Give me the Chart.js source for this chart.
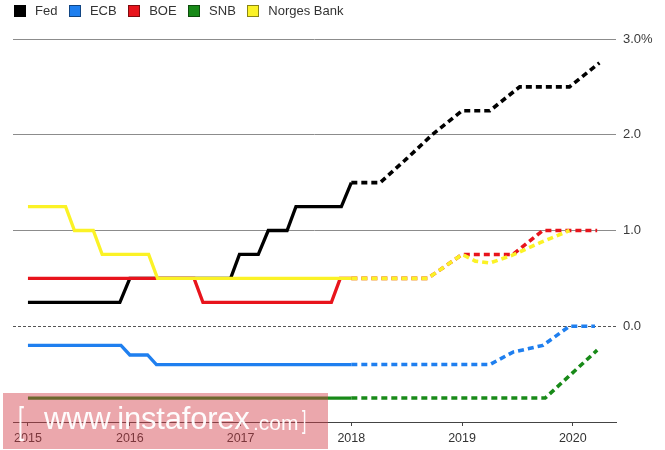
<!DOCTYPE html>
<html>
<head>
<meta charset="utf-8">
<script src="https://cdn.jsdelivr.net/npm/chart.js@4.4.1/dist/chart.umd.min.js"></script>
<style>
  html,body{margin:0;padding:0;background:#fff;}
  #wrap{position:relative;width:665px;height:450px;overflow:hidden;font-family:"Liberation Sans",Arial,Helvetica,sans-serif;}
  #chart{position:absolute;left:0;top:0;}
  #legend{position:absolute;left:14px;top:3px;display:flex;align-items:center;font-size:13px;color:#333;}
  #legend .item{display:flex;align-items:center;margin-right:11.5px;}
  #legend .box{width:12px;height:12px;border:1px solid rgba(0,0,0,.45);margin-right:9px;box-sizing:border-box;}
  #stamp{position:absolute;left:3px;top:393px;width:325px;height:56px;background:rgba(210,60,72,.45);
         color:rgba(255,255,255,.97);white-space:nowrap;}
  #stamp span{position:absolute;}
</style>
</head>
<body>
<div id="wrap">
  <canvas id="chart" width="665" height="450"></canvas>
  <div id="legend"></div>
  <div id="stamp">
    <span style="left:15px;top:7px;font-size:36px;transform:scaleX(.6);transform-origin:left;">[</span>
    <span style="left:41px;top:8px;font-size:31px;letter-spacing:-.2px;">www.instaforex</span>
    <span style="left:250px;top:18px;font-size:21px;">.com</span>
    <span style="left:299px;top:12px;font-size:26px;transform:scaleX(.6);transform-origin:left;">]</span>
  </div>
</div>
<script>
/* ---------- data: [year, rate %] ---------- */
const banks  = ['Fed','ECB','BOE','SNB','Norges Bank'];
const colors = ['#000000','#1f7fef','#e8141c','#188a18','#fbf226'];

const fedHist = [[2015.08,0.25],[2015.91,0.25],[2016.0,0.5],[2016.91,0.5],[2016.99,0.75],[2017.16,0.75],
                 [2017.25,1.0],[2017.42,1.0],[2017.5,1.25],[2017.91,1.25],[2018.0,1.5]];
const fedProj = [[2018.0,1.5],[2018.26,1.5],[2018.5,1.75],[2018.73,2.0],[2019.0,2.25],[2019.25,2.25],
                 [2019.52,2.5],[2019.97,2.5],[2020.24,2.75]];

const ecbHist = [[2015.08,-0.2],[2015.92,-0.2],[2016.0,-0.3],[2016.16,-0.3],[2016.24,-0.4],[2018.0,-0.4]];
const ecbProj = [[2018.0,-0.4],[2019.25,-0.4],[2019.46,-0.27],[2019.73,-0.2],[2019.97,0.0],[2020.2,0.0]];

const boeHist = [[2015.08,0.5],[2016.58,0.5],[2016.66,0.25],[2017.82,0.25],[2017.9,0.5],[2018.0,0.5]];
const boeProj = [[2018.0,0.5],[2018.69,0.5],[2019.0,0.75],[2019.46,0.75],[2019.73,1.0],[2020.22,1.0]];

const snbHist = [[2015.08,-0.75],[2018.0,-0.75]];
const snbProj = [[2018.0,-0.75],[2019.75,-0.75],[2020.22,-0.25]];

const nbHist  = [[2015.08,1.25],[2015.42,1.25],[2015.5,1.0],[2015.67,1.0],[2015.75,0.75],[2016.17,0.75],
                 [2016.25,0.5],[2018.0,0.5]];
const nbProj  = [[2018.0,0.5],[2018.69,0.5],[2019.0,0.75],[2019.12,0.68],[2019.25,0.66],[2019.45,0.74],
                 [2019.7,0.87],[2019.97,1.0]];

const xTicks  = [2015.08,2016,2017,2018,2019,2020];
const xLabels = ['2015','2016','2017','2018','2019','2020'];
const yLabels = {3:'3.0%',2:'2.0',1:'1.0',0:'0.0'};

/* ---------- helpers ---------- */
const pts = a => a.map(([x,y])=>({x,y}));
// draw order: Norges on top, then BOE, Fed, ECB, SNB
const drawOrder = [3,4,2,5,1];
const hist = [fedHist,ecbHist,boeHist,snbHist,nbHist];
const proj = [fedProj,ecbProj,boeProj,snbProj,nbProj];

const datasets = [];
banks.forEach((b,i)=>{
  datasets.push({label:b,data:pts(hist[i]),borderColor:colors[i],borderWidth:3.3,
                 pointRadius:0,tension:0,order:drawOrder[i],borderJoinStyle:'miter'});
  datasets.push({label:b+' proj',data:pts(proj[i]),borderColor:colors[i],borderWidth:3.6,
                 borderDash:[6,4],borderCapStyle:'butt',pointRadius:0,tension:0,order:drawOrder[i]});
});

/* legend */
const lg=document.getElementById('legend');
banks.forEach((b,i)=>{
  const it=document.createElement('div'); it.className='item';
  it.innerHTML=`<div class="box" style="background:${colors[i]}"></div><span>${b}</span>`;
  lg.appendChild(it);
});

/* dashed zero line */
const zeroLine={
  id:'zeroLine',
  beforeDatasetsDraw(c){
    const {ctx,chartArea:a,scales:{y}}=c, py=Math.round(y.getPixelForValue(0))+.5;
    ctx.save(); ctx.strokeStyle='#555'; ctx.lineWidth=1; ctx.setLineDash([3,2]);
    ctx.beginPath(); ctx.moveTo(a.left,py); ctx.lineTo(a.right,py); ctx.stroke(); ctx.restore();
  }
};

new Chart(document.getElementById('chart'),{
  type:'line',
  data:{datasets},
  plugins:[zeroLine],
  options:{
    responsive:false,
    animation:false,
    layout:{padding:{top:39,left:13,right:0,bottom:0}},
    plugins:{legend:{display:false},tooltip:{enabled:false}},
    scales:{
      x:{
        type:'linear',min:2014.945,max:2020.39,
        afterBuildTicks:s=>{s.ticks=xTicks.map(v=>({value:v}));},
        afterFit:s=>{s.height=28;},
        ticks:{autoSkip:false,maxRotation:0,padding:5,color:'#333',
               font:{size:12.5,family:'"Liberation Sans",Arial,sans-serif'},
               callback:(v,i)=>xLabels[i]},
        grid:{drawOnChartArea:false,drawTicks:true,tickLength:4,tickColor:'#444',tickWidth:1},
        border:{display:true,color:'#444',width:1}
      },
      y:{
        position:'right',min:-1,max:3,
        afterBuildTicks:s=>{s.ticks=[-1,0,1,2,3].map(v=>({value:v}));},
        afterFit:s=>{s.width=49;},
        ticks:{padding:7,color:'#3a3a3a',font:{size:13,family:'"Liberation Sans",Arial,sans-serif'},
               callback:v=>yLabels[v]??''},
        grid:{drawTicks:false,color:c=>c.tick&&c.tick.value>0?'#8c8c8c':'rgba(0,0,0,0)',lineWidth:1},
        border:{display:false}
      }
    }
  }
});
</script>
</body>
</html>
